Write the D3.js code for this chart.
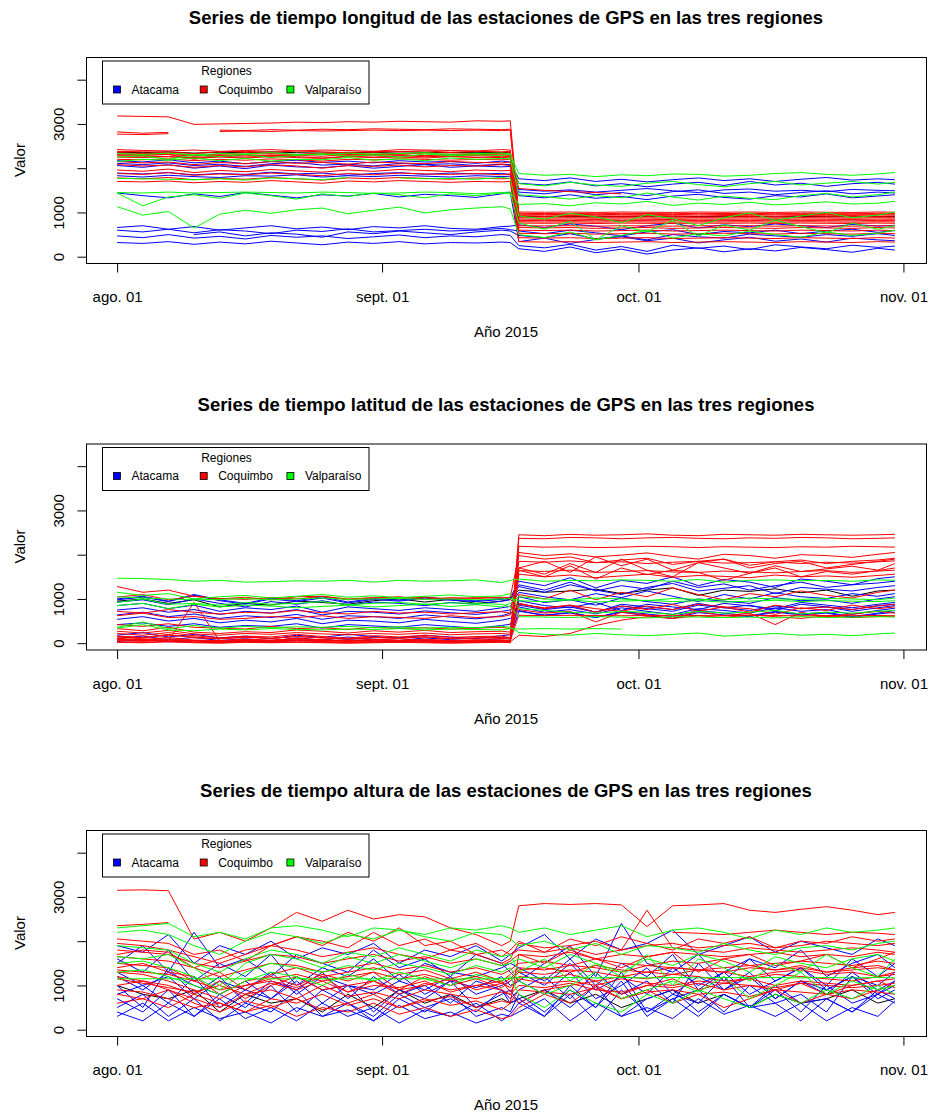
<!DOCTYPE html>
<html>
<head>
<meta charset="utf-8">
<script src="https://cdn.jsdelivr.net/npm/d3@7"></script>
<style>
body { margin: 0; background: #fff; }
text { font-family: "Liberation Sans", Arial, Helvetica, sans-serif; }
</style>
</head>
<body>
<div id="chart"></div>
<script>
// sampled days, offset from 2015-08-01
var dayOffsets = [0,3,6,9,12,15,18,21,24,27,30,33,36,39,42,45,46,47,50,53,56,59,62,65,68,71,74,77,80,83,86,89,91];

var regiones = ["Atacama", "Coquimbo", "Valparaíso"];
var xTickDates = ["2015-08-01", "2015-09-01", "2015-10-01", "2015-11-01"];
var xTickLabels = ["ago. 01", "sept. 01", "oct. 01", "nov. 01"];
var yTicks = [0, 1000, 2000, 3000, 4000];
var yTickLabels = ["0", "1000", "", "3000", ""];
var yLim = [30, 4340];

var titulos = [
	"Series de tiempo longitud de las estaciones de GPS en las tres regiones",
	"Series de tiempo latitud de las estaciones de GPS en las tres regiones",
	"Series de tiempo altura de las estaciones de GPS en las tres regiones"
];

// ---- longitud ----
var lonAtacama = [
[2170,2140,2190,2120, 2160,2100,2150,2180, 2130,2160,2120,2170, 2140,2150,2110,2160, 2140, 1760,1720,1780,1700, 1750,1690,1740,1780, 1720,1760,1700,1750, 1790,1730,1760,1740],
[2060,2020,2080,2000, 2050,1990,2070,2030, 2010,2060,2000,2040, 2080,2020,2050,2030, 2040, 1660,1620,1690,1600, 1650,1580,1640,1680, 1610,1700,1620,1660, 1590,1650,1680,1640],
[1890,1870,1900,1850, 1880,1860,1910,1870, 1890,1840,1880,1900, 1860,1890,1870,1880, 1860, 1520,1480,1510,1460, 1500,1540,1490,1450, 1510,1530,1480,1500, 1470,1520,1500,1490],
[1830,1800,1840,1810, 1790,1830,1820,1850, 1800,1830,1810,1840, 1820,1800,1830,1810, 1820, 1380,1330,1400,1320, 1360,1290,1370,1410, 1340,1300,1380,1350, 1420,1330,1370,1400],
[1440,1380,1330,1420, 1360,1450,1390,1330, 1400,1370,1430,1350, 1410,1380,1340,1420, 1460, 340,420,300,390, 450,360,420,310, 380,440,350,400, 330,420,380,360],
[660,700,620,680, 600,650,700,630, 670,610,680,650, 700,640,620,680, 690, 720,660,740,690, 610,700,760,650, 720,680,740,700, 660,730,690,710],
[600,560,620,540, 610,580,520,600, 570,630,560,590, 620,580,600,640, 610, 580,520,600,540, 470,560,610,500, 570,540,600,520, 580,620,550,590],
[null,null,null,500, 560,470,540,510, 440,560,520,580, 540,500,560,600, 580, 480,430,520,400, 470,380,500,450, 420,510,470,440, 500,460,520,480],
[470,430,500,420, 460,400,480,440, 470,410,450,490, 430,470,450,500, 480, 250,200,280,150, 230,120,260,190, 240,160,270,220, 180,260,210,240],
[320,300,340,280, 330,290,350,310, 270,330,300,340, 290,320,310,330, 320, 180,120,220,90, 170,60,150,200, 110,180,130,210, 160,100,190,150],
[2110,2080,2120,2060, 2090,2040,2100,2130, 2070,2090,2050,2110, 2080,2100,2060,2090, 2080, 1460,1420,1490,1400, 1450,1380,1470,1510, 1430,1460,1400,1450, 1490,1420,1460,1440]
];
var lonCoquimbo = [
[3180,3170,3160,2990, 3000,3010,3020,3040, 3030,3050,3040,3060, 3050,3040,3070,3060, 3070, 960,950,960,950, 955,960,950,960, 955,950,960,955, 950,960,955,960],
[2820,2790,2810,null, 2860,2850,2870,2860, 2880,2870,2890,2880, 2870,2890,2880,2870, 2880, 930,920,930,925, 920,930,925,920, 930,925,920,930, 925,930,920,925],
[2770,2760,2780,null, 2830,2840,2830,2850, 2840,2850,2860,2850, 2860,2850,2860,2850, 2860, 900,905,900,895, 900,905,900,895, 900,905,900,895, 900,905,900,895],
[2420,2400,2390,2410, 2380,2400,2420,2390, 2410,2400,2380,2420, 2410,2400,2390,2420, 2410, 880,875,880,870, 880,875,870,880, 875,880,870,880, 875,870,880,875],
[2380,2370,2360,2330, 2370,2380,2360,2390, 2370,2350,2380,2370, 2390,2360,2380,2370, 2380, 850,845,850,840, 850,845,840,850, 845,850,840,850, 845,840,850,845],
[2350,2330,2340,2280, 2320,2350,2330,2310, 2340,2330,2350,2320, 2340,2350,2330,2340, 2350, 820,815,820,810, 820,815,810,820, 815,820,810,820, 815,810,820,815],
[2320,2300,2310,2200, 2290,2310,2280,2300, 2320,2290,2310,2300, 2280,2310,2300,2320, 2310, 790,785,790,780, 790,785,780,790, 785,790,780,790, 785,780,790,785],
[2280,2270,2260,2240, 2270,2250,2280,2260, 2230,2270,2250,2280, 2260,2270,2240,2270, 2260, 1540,1500,1470,1450, 1420,null,null,null, null,null,null,null, null,null,null,null],
[2150,2120,2140,2080, 2130,2100,2150,2110, 2130,2090,2140,2120, 2100,2150,2130,2120, 2140, 760,755,760,750, 760,755,750,760, 755,760,750,760, 755,750,760,755],
[2080,2050,2070,2020, 2060,2030,2080,2050, 2000,2060,2040,2070, 2030,2060,2050,2080, 2060, 660,650,660,640, 650,660,640,650, 660,650,640,660, 650,640,660,650],
[1960,1930,1980,1900, 1950,1920,1970,1940, 1910,1960,1930,1970, 1950,1920,1960,1940, 1950, 600,590,600,580, 590,600,580,590, 600,590,580,600, 590,580,600,590],
[1880,1860,1900,1840, 1870,1850,1890,1860, 1830,1880,1850,1890, 1870,1860,1880,1850, 1870, 530,520,530,510, 520,530,510,520, 530,520,510,530, 520,510,530,520],
[1780,1760,1790,1740, 1770,1750,1790,1760, 1730,1780,1760,1790, 1770,1750,1780,1760, 1770, 430,420,430,410, 420,430,410,420, 430,420,410,430, 420,410,430,420],
[1700,1690,1710,1670, 1700,1680,1720,1690, 1660,1710,1690,1720, 1700,1680,1700,1690, 1700, 340,330,340,320, 330,340,320,330, 340,330,320,340, 330,320,340,330],
[2250,2240,2260,2220, 2250,2230,2260,2240, 2220,2260,2240,2250, 2230,2260,2250,2240, 2250, 980,975,980,970, 980,975,970,980, 975,980,970,980, 975,970,980,975],
[2200,2190,2210,2170, 2200,2180,2210,2190, 2160,2200,2190,2210, 2200,2180,2200,2190, 2200, 1010,1005,1010,1000, 1010,1005,1000,1010, 1005,1010,1000,1010, 1005,1000,1010,1005],
[2300,2290,2310,2270, 2300,2280,2300,2290, 2270,2310,2290,2300, 2280,2300,2290,2300, 2290, 700,695,700,690, 700,695,690,700, 695,700,690,700, 695,690,700,695]
];
var lonValparaiso = [
[2250,2280,2200,2300, 2260,2310,2240,2290, 2330,2270,2300,2250, 2320,2280,2300,2290, 2310, 1880,1840,1860,1810, 1850,1830,1870,1860, 1820,1840,1880,1900, 1860,1840,1870,1900],
[2150,2200,2180,2230, 2170,2220,2160,2200, 2190,2240,2180,2210, 2170,2230,2200,2220, 2210, 1400,1360,1300,1380, 1330,1440,1350,1280, 1370,1320,1290,1380, 1430,1350,1400,1460],
[1770,1760,1750,1740, 1760,1730,1780,1760, 1740,1790,null,1780, 1760,1770,1750,1790, 1770, 920,850,980,900, 770,950,860,700, 880,990,820,920, 1000,880,940,1010],
[1450,1440,1460,1440, 1450,1460,1450,1440, 1460,1450,1430,1440, 1460,1450,1420,1450, 1460, 1180,1200,1150,1220, 1190,1250,1160,1210, 1180,1230,1170,1200, 1240,1190,1210,1250],
[1440,1150,1350,1400, 1320,1440,1380,1300, 1420,1360,1440,1400, 1330,1420,1380,1440, 1420, 760,620,800,380, 700,560,820,460, 720,600,820,680, 540,760,620,700],
[1130,940,1020,650, 960,1050,980,1060, 1100,970,1050,1120, 990,1060,1100,1130, 1080, 500,430,560,380, 480,600,420,520, 470,580,500,440, 560,480,530,600],
[2330,2310,2340,2300, 2330,2320,2350,2310, 2300,2340,2320,2330, 2350,2310,2330,2340, 2320, 1650,1600,1680,1620, 1590,1660,1700,1630, 1580,1650,1700,1620, 1660,1700,1640,1680]
];
var lonOtra = [
[2360,2350,2370,2340, 2360,2350,2370,2350, 2340,2360,2350,2370, 2360,2350,2360,2350, 2360, 910,905,910,900, 910,905,900,910, 905,910,900,910, 905,900,910,905]
];

// ---- latitud ----
var latAtacama = [
[1000,1060,950,1100, 980,900,1020,960, 1050,930,1010,970, 1040,990,960,1010, 1030, 1400,1300,1480,1250, 1420,1350,1500,1300, 1440,1380,1260,1450, 1400,1320,1460,1500],
[930,980,870,1000, 900,820,940,880, 960,860,930,900, 850,920,880,950, 980, 1280,1150,1320,1200, 1100,1260,1350,1180, 1240,1300,1120,1260, 1220,1180,1260,1300],
[850,900,780,860, 720,800,760,840, 700,820,780,740, 800,760,720,800, 830, 1150,1050,980,1120, 1030,1180,1060,940, 1100,1000,1140,1050, 1010,1120,1060,1120],
[750,800,700,760, 650,720,680,760, 640,720,700,660, 730,690,650,720, 750, 900,780,850,700, 880,820,760,900, 800,860,740,880, 820,760,850,880],
[640,700,600,660, 560,620,580,650, 540,620,600,560, 640,590,550,620, 680, 820,700,760,660, 800,720,650,780, 740,680,800,720, 760,650,740,790],
[540,600,500,560, 460,520,480,560, 440,520,500,460, 540,490,450,520, 560, 740,620,700,580, 720,660,600,740, 680,620,720,660, 700,600,680,740],
[180,240,140,200, 120,160,100,180, 130,200,150,120, 180,140,100,170, 190, 960,850,800,920, 740,880,820,760, 900,840,780,920, 860,800,880,920],
[110,160,80,130, 60,100,50,120, 70,140,90,60, 120,80,50,110, 130, 720,640,680,580, 700,620,560,690, 640,600,700,640, 680,580,660,700],
[40,80,30,60, 20,50,30,70, 40,80,50,30, 60,40,20,50, 60, 1050,920,980,860, 1020,940,880,1000, 950,900,1030,960, 980,900,1000,1050],
[980,1040,940,1080, 960,880,1000,940, 1020,910,990,950, 1020,970,940,990, 1010, 1320,1200,1380,1180, 1300,1220,1400,1260, 1340,1200,1300,1380, 1260,1320,1360,1400],
[420,460,380,440, 360,400,380,440, 340,420,390,360, 420,380,340,400, 430, 860,760,820,700, 840,780,720,860, 800,740,840,780, 820,720,800,850]
];
var latCoquimbo = [
[80,60,70,50, 40,60,50,70, 60,40,50,60, 40,50,60,40, 50, 2450,2430,2460,2440, 2450,2470,2440,2430, 2460,2450,2440,2460, 2450,2440,2450,2460],
[30,20,40,20, 10,30,20,30, 20,10,20,30, 20,10,20,30, 20, 2370,2360,2390,2380, 2360,2380,2390,2370, 2360,2380,2370,2390, 2380,2360,2370,2380],
[160,120,180,140, 100,130,110,150, 120,90,130,110, 140,100,120,110, 90, 2190,2170,2180,2160, 2170,2190,2180,2160, 2180,2170,2160,2180, 2170,2190,2180,2170],
[220,180,240,170, 120,160,140,200, 150,110,170,140, 180,130,150,160, 120, 2050,1980,2020,1950, 1990,2040,1960,1900, 2010,1980,1920,2000, 1980,1940,2010,2050],
[1280,1150,1200,1060, 1000,1040,980,1050, 1060,1000,1030,1010, 1040,1000,1030,1020, 1040, 1980,1900,1950,1820, 1880,1920,1780,1850, 1900,1760,1840,1880, 1800,1850,1880,1920],
[420,380,440,360, 340,320,380,330, 350,310,360,330, 350,320,340,360, 330, 1700,1560,1800,1600, 1900,1650,1500,1820, 1700,1580,1750,1620, 1680,1740,1650,1800],
[330,280,360,250, 220,260,240,300, 270,230,280,250, 290,240,260,270, 250, 1650,1500,1750,1450, 1700,1550,1650,1600, 1420,1580,1700,1500, 1620,1560,1640,1700],
[140,100,60,920, 50,80,60,110, 70,50,90,60, 80,50,60,70, 50, 900,780,860,700, 840,760,880,720, 820,780,650,800, 740,860,780,820],
[90,70,100,60, 50,70,60,80, 60,50,70,60, 70,50,60,70, 60, 630,625,630,625, 620,625,630,625, 620,630,625,620, 625,630,625,620],
[60,40,70,30, 20,40,30,50, 40,20,40,30, 50,20,40,50, 30, 180,150,220,400, 520,600,560,620, 580,640,600,560, 620,580,600,610],
[1040,1100,980,1060, 1010,990,1030,1000, 1060,980,1020,1050, 990,1030,1010,1040, 1000, 760,680,720,480, 700,640,560,720, 620,680,420,700, 600,660,720,680],
[620,680,580,600, 540,560,600,580, 620,560,600,580, 560,620,580,600, 640, 880,800,860,780, 720,840,760,880, 820,700,860,780, 820,760,840,880],
[110,80,130,70, 60,90,70,100, 80,60,80,70, 90,60,80,70, 60, 1560,1500,1540,1480, 1520,1560,1490,1530, 1510,1480,1540,1500, 1520,1490,1530,1560],
[270,230,290,210, 180,220,200,240, 210,190,220,200, 230,190,210,220, 200, 1850,1830,1860,1820, 1840,1800,1830,1850, 1810,1820,1840,1800, 1830,1810,1840,1860],
[20,10,30,10, 0,20,10,20, 10,0,10,20, 10,0,10,20, 10, 1640,1620,1650,1600, 1620,1640,1610,1600, 1630,1610,1590,1620, 1640,1600,1630,1650],
[160,130,200,120, 100,140,110,150, 120,100,130,110, 150,100,120,130, 110, 1100,1000,1200,980, 1150,1050,1250,1100, 980,1120,1050,1180, 1080,1020,1150,1200],
[720,680,760,700, 660,700,680,740, 690,660,720,680, 700,660,690,710, 680, 1700,1850,1600,1950, 1750,1900,1650,1820, 1900,1700,1800,1850, 1700,1780,1850,1900]
];
var latValparaiso = [
[1470,1460,1440,1400, 1420,1380,1390,1410, 1400,1420,1380,1420, 1400,1410,1430,1370, 1420, 1450,1400,1420,1410, 1430,1420,1400,1440, 1380,1420,1430,1410, 1420,1400,1430,1420],
[1050,1020,1000,980, 990,1010,980,1000, 1020,990,1000,1010, 990,1000,980,1000, 1010, 960,940,980,930, 950,970,940,960, 930,950,970,940, 960,950,940,960],
[920,1000,880,900, 860,920,880,900, 940,870,900,920, 880,910,900,880, 820, 600,590,580,600, 590,570,600,590, 580,590,570,600, 580,590,600,590],
[340,420,300,280, 320,300,330,310, 300,320,310,330, 300,320,310,300, 330, 320,330,320,330, 320,null,null,null, null,null,null,null, null,null,null,null],
[360,480,330,400, 340,380,350,370, 360,380,350,370, 340,360,350,380, 360, 240,200,180,220, 190,170,200,230, 160,190,220,180, 200,170,210,230],
[850,900,780,880, 820,860,840,800, 830,860,820,850, 880,830,870,820, 900, 1050,1000,980,1020, 1000,960,1010,990, 980,1020,1000,990, 1010,1000,980,1020],
[1150,1080,1120,1000, 1050,1080,1020,1060, 1100,1040,1070,1030, 1060,1090,1050,1070, 1120, 780,740,700,680, 720,700,650,720, 680,700,740,660, 700,680,720,740]
];
var latOtra = [
[950,1000,900,980, 820,900,860,950, 920,880,960,1000, 930,990,900,950, 1000, 1200,1150,1180,1220, 1120,1200,1250,1080, 1200,1170,1230,1140, 1200,1060,1180,1200]
];

// ---- altura ----
var altAtacama = [
[1900,1750,2150,1500, 1900,1700,2000,1600, 1850,1700,1950,1500, 1800,1650,1900,1550, 1700, 1850,2150,1600,2050, 1800,1950,2250,1700, 1900,2100,1750,2000, 1850,1700,2050,1900],
[1500,1900,1300,2200, 1400,1600,1200,1700, 1500,1300,1800,1400, 1600,1200,1700,1500, 1300, 1100,1500,1900,1200, 2400,1500,1300,1700, 1100,1600,1400,1800, 1200,1500,1700,1400],
[1000,500,1400,800, 1200,600,1100,900, 1300,700,1200,800, 1000,600,1100,900, 700, 900,1200,700,1300, 800,1100,600,1500, 900,1200,700,1100, 800,1300,900,1100],
[700,400,900,300, 800,500,1000,400, 900,600,300,800, 500,700,400,900, 600, 700,300,1000,500, 1300,400,800,600, 1200,500,900,400, 1000,600,800,1100],
[500,800,300,700, 200,600,400,900, 300,600,200,700, 400,800,300,500, 400, 800,400,900,500, 1100,300,700,900, 400,1000,600,800, 400,1200,700,900],
[400,200,600,300, 700,250,500,200, 600,300,500,150, 450,300,600,200, 350, 600,300,800,200, 900,400,700,300, 800,500,600,200, 700,400,900,700],
[1200,900,1300,1000, 800,1100,700,1200, 900,1000,800,1100, 900,1200,800,1000, 1100, 1300,1000,1500,900, 1200,800,1400,1000, 1300,800,1100,1400, 900,1200,1000,1300],
[800,1000,600,1200, 500,900,700,1100, 600,1000,400,900, 700,1100,500,800, 900, 600,900,500,1000, 300,700,900,400, 800,500,1000,600, 700,400,800,600],
[300,600,200,500, 250,400,150,500, 300,450,200,550, 250,400,150,350, 300, 400,700,200,600, 300,500,250,700, 350,550,300,600, 200,500,300,650],
[1600,1300,1800,1100, 1500,1200,1700,1000, 1400,1200,1600,1100, 1500,1300,1200,1400, 1500, 1400,1100,1600,1000, 1500,1200,1700,900, 1300,1600,1100,1400, 1000,1600,1200,1500],
[1300,1000,1200,700, 1100,900,1300,800, 1200,1000,900,1250, 800,1100,950,1200, 1000, 1100,800,1300,700, 1000,1400,800,1200, 900,1300,700,1100, 900,1200,800,1000]
];
var altCoquimbo = [
[3150,3160,3140,2050, 2200,2000,2300,2650, 2450,2700,2500,2600, 2550,2300,2150,1900, 2000, 2800,2850,2830,2850, 2820,2330,2800,2820, 2850,2700,2650,2720, 2780,2700,2600,2650],
[2350,2380,2420,null, null,null,null,null, null,null,null,null, null,null,null,null, null, null,null,null,null, null,null,2200,2180, 2150,2200,2250,2200, 2150,2200,2180,2150],
[2050,2000,1950,1700, 1800,1550,1900,2100, 2000,1850,2200,1900, 2050,1800,1950,1650, 1800, 2000,1750,2050,1900, 2100,1950,1800,2050, 1950,2100,1850,2000, 1950,2100,2000,2050],
[1950,1900,1800,1650, 1500,1700,1900,1800, 1650,1750,1850,1700, 1600,1800,1700,1500, 1600, 1950,1850,1900,2000, 1800,1900,1950,1850, 1900,1950,1850,1900, 2000,1950,1900,1950],
[1800,1750,1700,1500, 1400,1550,1700,1650, 1500,1600,1700,1550, 1650,1500,1600,1450, 1550, 1700,1650,1750,1600, 1700,1650,1750,1700, 1650,1700,1750,1650, 1700,1650,1750,1700],
[1650,1600,1550,1400, 1200,1350,1500,1450, 1300,1400,1500,1350, 1450,1300,1400,1250, 1350, 1500,1550,1450,1600, 1500,1450,1550,1500, 1600,1450,1500,1550, 1500,1450,1550,1500],
[1500,1450,1400,1100, 1300,900,1250,1400, 1200,1300,1400,1250, 1350,1150,1300,1100, 1250, 1400,1350,1450,1400, 1300,1450,1400,1350, 1400,1450,1350,1400, 1300,1400,1450,1350],
[1400,1500,1300,1200, 800,1100,1200,1000, 1250,1100,1300,900, 1200,1000,1150,950, 1100, 1300,1250,1350,1300, 1200,1300,1250,1350, 1300,1200,1300,1350, 1250,1300,1200,1300],
[1300,1250,1100,900, 700,1000,1100,950, 1200,850,1100,900, 1000,1150,900,1050, 950, 1200,1150,1250,1100, 1200,1150,1250,1200, 1100,1150,1250,1200, 1150,1100,1200,1250],
[1200,1100,1000,800, 1100,700,1000,1200, 900,1000,1100,800, 1050,900,1000,1100, 850, 1150,1050,1100,1000, 1150,1050,1000,1100, 1050,1150,1000,1100, 1050,1000,1100,1150],
[1000,1100,900,700, 500,800,900,700, 1000,750,850,700, 900,800,700,850, 800, 1000,950,1050,900, 850,1000,950,1050, 900,1000,950,1050, 1000,950,1000,1050],
[900,850,700,500, 600,400,700,600, 800,550,700,500, 650,750,500,650, 600, 900,850,800,950, 700,850,900,800, 850,750,900,850, 800,900,850,800],
[800,700,900,600, 400,650,500,700, 450,600,800,500, 700,550,650,450, 600, 1700,1500,1800,1600, 1400,1650,1750,1300, 1600,1700,1450,1550, 1700,1400,1600,1750],
[600,700,500,800, 600,400,550,300, 500,400,600,350, 500,300,450,250, 300, 500,800,600,1000, 700,900,600,800, 500,700,900,600, 800,700,900,1000],
[1700,1800,1750,1400, 1600,1800,1900,2100, 1900,2200,2000,2300, 1900,2000,1700,1800, 1700, 1800,1750,1850,1700, 1800,2700,1850,1800, 1750,1850,1800,1750, 1800,1850,1800,1750],
[1350,1300,1250,1100, 900,1000,1150,1250, 1100,1200,1300,1150, 1250,1100,1200,1050, 1150, 1350,1400,1300,1450, 1350,1300,1400,1350, 1300,1400,1350,1450, 1300,1350,1400,1350],
[1150,1050,950,850, 1000,800,1050,900, 1100,850,1000,950, 1100,850,1000,900, 800, 600,900,1000,1100, 800,1000,1150,900, 1050,1000,900,1050, 800,1000,1100,950]
];
var altValparaiso = [
[2300,2350,2400,2100, 2200,2050,2300,2350, 2250,2100,2300,2250, 2150,2300,2250,2350, 2300, 2200,2300,2150,2250, 2350,2100,2250,2300, 2200,2050,2250,2150, 2300,2200,2250,2300],
[2200,2250,2150,1900, 1700,2000,2200,2100, 1950,2150,2050,2250, 2100,2000,2200,2150, 2050, 1900,2000,1800,1950, 1700,1900,1850,1750, 1950,1800,1700,1850, 1900,1800,1950,2000],
[1650,1600,1700,1400, 1000,1500,1700,1600, 1400,1650,1500,1700, 1550,1400,1600,1450, 1500, 1600,1400,1700,1500, 1300,1600,1450,1700, 1550,1300,1650,1500, 1400,1600,1700,1550],
[1500,1550,1400,1200, 900,1300,1500,1400, 1300,1450,1350,1500, 1400,1250,1450,1300, 1400, 1100,800,1000,1300, 700,900,1100,850, 1200,700,1000,1300, 800,1100,900,1000],
[1150,1150,1150,1150, 1150,1150,1150,1150, 1150,1150,1150,1150, 1150,1140,1150,1150, 1160, 1180,1170,1180,1170, 1180,1170,1180,1170, 1180,1170,1180,1170, 1180,1170,1180,1170],
[1300,1350,1200,1000, 800,1100,1300,1200, 1000,1250,1100,1300, 1150,1000,1250,1100, 1200, 800,500,900,600, 400,800,600,900, 700,500,800,600, 900,700,1000,800],
[1900,1850,1800,1500, 1300,1600,1800,1700, 1500,1750,1650,1850, 1700,1550,1800,1650, 1700, 1300,1600,1100,1500, 1200,1700,1000,1600, 1400,1100,1500,1300, 1700,1400,1200,1600]
];
var altOtra = [
[1000,800,700,900, 400,800,600,700, 400,800,500,900, 600,800,500,700, 600, 700,900,600,800, 500,700,900,600, 800,500,800,600, 700,900,600,700]
];

//
// Layout
//
var W = 933, H = 1114;
var plotLeft = 86, plotRight = 926, plotH = 206;
var panelTops = [57, 443.5, 830];
var colores = ["#0000ff", "#ff0000", "#00ff00", "#000000"];
var ordenDibujo = [3, 0, 1, 2];   // black first, then blue, red, green
var font = "'Liberation Sans', Arial, Helvetica, sans-serif";

var panels = [
	{ titulo: titulos[0], grupos: [lonAtacama, lonCoquimbo, lonValparaiso, lonOtra] },
	{ titulo: titulos[1], grupos: [latAtacama, latCoquimbo, latValparaiso, latOtra] },
	{ titulo: titulos[2], grupos: [altAtacama, altCoquimbo, altValparaiso, altOtra] }
];

var svg = d3.select("#chart").append("svg")
	.attr("width", W)
	.attr("height", H)
	.style("background", "#fff");

var dates = dayOffsets.map(function(d) { return new Date(Date.UTC(2015, 7, 1 + d)); });
var span = dates[dates.length - 1] - dates[0];
var x = d3.scaleUtc()
	.domain([new Date(+dates[0] - 0.04 * span), new Date(+dates[dates.length - 1] + 0.04 * span)])
	.range([plotLeft, plotRight]);

var yPad = 0.04 * (yLim[1] - yLim[0]);

panels.forEach(function(p, pi) {
	var top = panelTops[pi];
	var y = d3.scaleLinear()
		.domain([yLim[0] - yPad, yLim[1] + yPad])
		.range([top + plotH, top]);

	var g = svg.append("g");

	var line = d3.line()
		.defined(function(d, i) { return d != null && i < dates.length; })
		.x(function(d, i) { return x(dates[i]); })
		.y(function(d) { return y(d); });

	// series lines
	ordenDibujo.forEach(function(gi) {
		g.append("g").selectAll("path")
			.data(p.grupos[gi])
			.enter()
			.append("path")
			.attr("d", line)
			.attr("fill", "none")
			.attr("stroke", colores[gi])
			.attr("stroke-width", 1);
	});

	// box
	g.append("rect")
		.attr("x", plotLeft + 0.5)
		.attr("y", top + 0.5)
		.attr("width", plotRight - plotLeft)
		.attr("height", plotH)
		.attr("fill", "none")
		.attr("stroke", "#000")
		.attr("stroke-width", 1);

	// x axis
	var xAxis = d3.axisBottom(x)
		.tickValues(xTickDates.map(function(s) { return new Date(s + "T00:00:00Z"); }))
		.tickFormat(function(d, i) { return xTickLabels[i]; })
		.tickSize(9)
		.tickPadding(19);
	g.append("g")
		.attr("transform", "translate(0," + (top + plotH + 0.5) + ")")
		.call(xAxis)
		.attr("font-size", 15)
		.attr("font-family", font)
		.call(function(a) {
			a.select(".domain").remove();
			a.selectAll("line").attr("stroke", "#000");
			a.selectAll("text").attr("fill", "#000");
		});

	// y axis
	var yAxis = d3.axisLeft(y)
		.tickValues(yTicks)
		.tickFormat(function(d, i) { return yTickLabels[i]; })
		.tickSize(9);
	g.append("g")
		.attr("transform", "translate(" + (plotLeft + 0.5) + ",0)")
		.call(yAxis)
		.attr("font-size", 15)
		.attr("font-family", font)
		.call(function(a) {
			a.select(".domain").remove();
			a.selectAll("line").attr("stroke", "#000");
			a.selectAll("text")
				.attr("fill", "#000")
				.attr("x", 0)
				.attr("dy", 0)
				.attr("text-anchor", "middle")
				.attr("transform", "translate(-23,0) rotate(-90)");
		});

	// titles
	g.append("text")
		.attr("x", (plotLeft + plotRight) / 2)
		.attr("y", top - 33)
		.attr("text-anchor", "middle")
		.attr("font-size", 18.5)
		.attr("font-weight", "bold")
		.text(p.titulo);

	g.append("text")
		.attr("x", (plotLeft + plotRight) / 2)
		.attr("y", top + plotH + 74)
		.attr("text-anchor", "middle")
		.attr("font-size", 15)
		.text("Año 2015");

	g.append("text")
		.attr("transform", "translate(25," + (top + plotH / 2) + ") rotate(-90)")
		.attr("text-anchor", "middle")
		.attr("font-size", 15)
		.text("Valor");

	// legend
	var leg = g.append("g").attr("transform", "translate(102.5," + (top + 4) + ")");
	leg.append("rect")
		.attr("x", 0)
		.attr("y", 0)
		.attr("width", 266.5)
		.attr("height", 43)
		.attr("fill", "#fff")
		.attr("stroke", "#000");
	leg.append("text")
		.attr("x", 124)
		.attr("y", 14)
		.attr("text-anchor", "middle")
		.attr("font-size", 12)
		.text("Regiones");
	var items = leg.selectAll("g.item")
		.data(regiones)
		.enter()
		.append("g")
		.attr("class", "item")
		.attr("transform", function(d, i) { return "translate(" + (11 + i * 86.7) + ",28.5)"; });
	items.append("rect")
		.attr("x", 0)
		.attr("y", -3.5)
		.attr("width", 7)
		.attr("height", 7)
		.attr("fill", function(d, i) { return colores[i]; })
		.attr("stroke", "#000")
		.attr("stroke-width", 0.8);
	items.append("text")
		.attr("x", 18)
		.attr("y", 4)
		.attr("font-size", 12)
		.text(function(d) { return d; });
});
</script>
</body>
</html>
